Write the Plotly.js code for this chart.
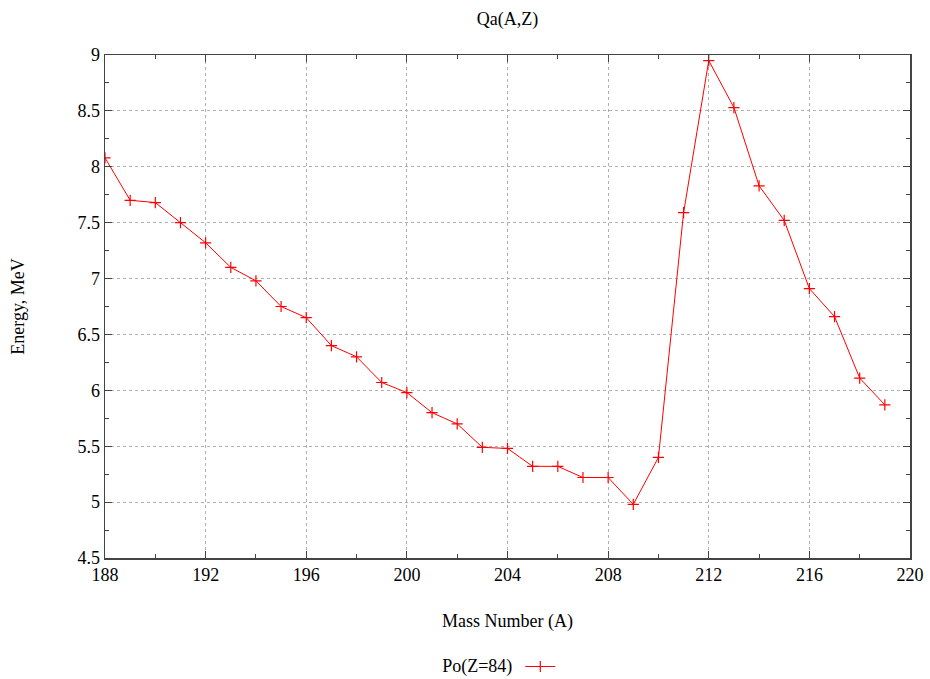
<!DOCTYPE html>
<html>
<head>
<meta charset="utf-8">
<script src="https://cdn.plot.ly/plotly-3.0.1.min.js"></script>
<style>html,body{margin:0;padding:0;background:#fff}#chart{width:930px;height:679px}</style>
</head>
<body>
<div id="chart"></div>
<script>
const massNumber = [188,189,190,191,192,193,194,195,196,197,198,199,200,201,202,203,204,205,206,207,208,209,210,211,212,213,214,215,216,217,218,219];
const qaEnergy = [8.08,7.70,7.68,7.50,7.32,7.10,6.98,6.75,6.65,6.40,6.30,6.07,5.98,5.80,5.70,5.49,5.48,5.32,5.32,5.22,5.22,4.98,5.40,7.59,8.95,8.53,7.83,7.52,6.91,6.66,6.11,5.87];
const seriesLabel = "Po(Z=84)";
const xTicks = [188,192,196,200,204,208,212,216,220];
const yTicks = [4.5,5,5.5,6,6.5,7,7.5,8,8.5,9];

const serif = "Liberation Serif, Times New Roman, serif";
const axisCommon = {
  showline: true, mirror: 'allticks', linecolor: '#444', linewidth: 1.5,
  ticks: 'inside', ticklen: 7, tickcolor: '#444', tickwidth: 1,
  showgrid: true, gridcolor: '#b0b0b0', griddash: 'dot', gridwidth: 1,
  zeroline: false, tickfont: {family: serif, size: 18, color: '#000'}
};
const trace = {
  x: massNumber, y: qaEnergy, name: '', type: 'scatter', mode: 'lines+markers',
  line: {color: '#ff0000', width: 1},
  marker: {symbol: 'cross-thin', size: 8, color: '#ff0000', line: {color: '#ff0000', width: 1.2}},
  showlegend: true
};
const layout = {
  width: 930, height: 679,
  margin: {l: 105, r: 20, t: 55, b: 121},
  paper_bgcolor: '#fff', plot_bgcolor: '#fff',
  title: {text: 'Qa(A,Z)', font: {family: serif, size: 18, color: '#000'}, x: 0.5, xref: 'paper', xanchor: 'center', y: 0.973, yanchor: 'middle'},
  xaxis: Object.assign({}, axisCommon, {
    range: [188, 220], tickvals: xTicks, ticktext: xTicks.map(String),
    minor: {dtick: 2, ticklen: 4, tickcolor: '#444', ticks: 'inside', showgrid: false},
    title: {text: 'Mass Number (A)', font: {family: serif, size: 18, color: '#000'}, standoff: 30}
  }),
  yaxis: Object.assign({}, axisCommon, {
    range: [4.5, 9], tickvals: yTicks, ticktext: yTicks.map(String),
    minor: {dtick: 0.25, ticklen: 4, tickcolor: '#444', ticks: 'inside', showgrid: false},
    title: {text: 'Energy, MeV', font: {family: serif, size: 18, color: '#000'}, standoff: 48}
  }),
  showlegend: true,
  legend: {
    orientation: 'h', x: 0.541, xanchor: 'center', xref: 'container', y: 0.018, yanchor: 'middle', yref: 'container',
    title: {text: seriesLabel, side: 'left', font: {family: serif, size: 18, color: '#000'}},
    font: {family: serif, size: 18, color: '#000'}, bgcolor: 'rgba(0,0,0,0)'
  }
};
Plotly.newPlot('chart', [trace], layout, {displayModeBar: false, staticPlot: true});
</script>
</body>
</html>
